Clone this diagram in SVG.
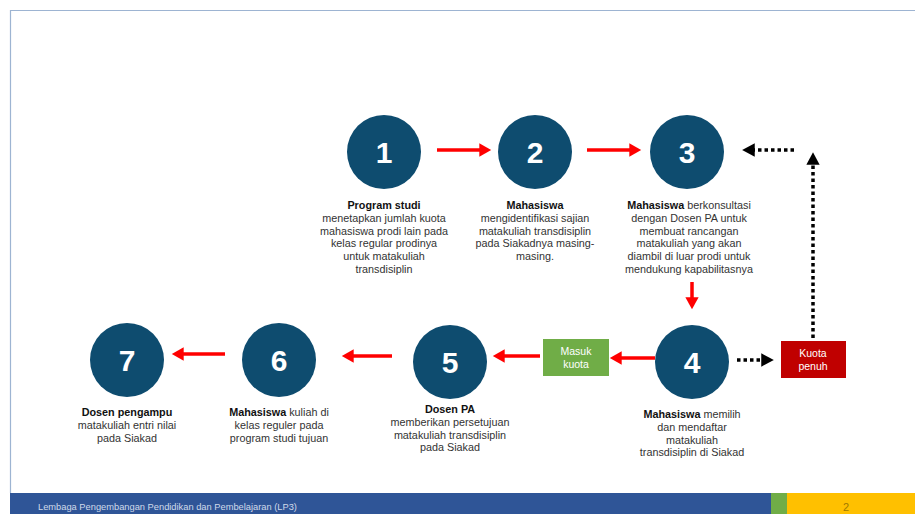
<svg xmlns="http://www.w3.org/2000/svg" width="915" height="514" viewBox="0 0 915 514">
<defs>
<marker id="ar" markerWidth="4" markerHeight="4" refX="2.2" refY="2" orient="auto" markerUnits="strokeWidth"><path d="M0,0.1 L3.4,2 L0,3.9 Z" fill="#FF0000"/></marker>
<marker id="ab" markerWidth="5" markerHeight="5" refX="2.5" refY="2.5" orient="auto" markerUnits="strokeWidth"><path d="M0,0.6 L3.6,2.5 L0,4.4 Z" fill="#000"/></marker>
<style>
.c{fill:#0E4C6F}
.n{font-family:"Liberation Sans",Arial,sans-serif;font-weight:bold;font-size:30px;fill:#fff;text-anchor:middle}
.t{font-family:"Liberation Sans",Arial,sans-serif;font-size:10.8px;fill:#333;text-anchor:middle}
.b{font-weight:bold;fill:#111}
.ra{stroke:#FF0000;stroke-width:3.5;fill:none;marker-end:url(#ar)}
.da{stroke:#000;stroke-width:3.5;stroke-dasharray:3.5 3;fill:none;marker-end:url(#ab)}
.bx{font-family:"Liberation Sans",Arial,sans-serif;font-size:10.5px;fill:#fff;text-anchor:middle}
</style>
</defs>
<rect width="915" height="514" fill="#fff"/>
<path d="M10.5,493 V10.5 H915" fill="none" stroke="#9DB4D2" stroke-width="1.2"/>
<g id="footer">
<rect x="10" y="493" width="761" height="21" fill="#2F5597"/>
<rect x="771" y="493" width="16" height="21" fill="#70AD47"/>
<rect x="787" y="493" width="128" height="21" fill="#FFC000"/>
<text x="38" y="510" font-family="Liberation Sans,Arial,sans-serif" font-size="9.3" fill="#D0DAEA">Lembaga Pengembangan Pendidikan dan Pembelajaran (LP3)</text>
<text x="846" y="511" font-family="Liberation Sans,Arial,sans-serif" font-size="11" fill="#A07A00" text-anchor="middle">2</text>
</g>
<g id="connectors">
<line class="ra" x1="437" y1="150" x2="487" y2="150"/>
<line class="ra" x1="587" y1="150" x2="637" y2="150"/>
<line class="ra" x1="692" y1="282" x2="692" y2="305"/>
<line class="ra" x1="655" y1="358" x2="614" y2="358"/>
<line class="ra" x1="540" y1="356" x2="497" y2="356"/>
<line class="ra" x1="392" y1="356" x2="346" y2="356"/>
<line class="ra" x1="225" y1="354" x2="176" y2="354"/>
<line class="da" x1="737" y1="360" x2="770" y2="360"/>
<line class="da" x1="813" y1="338" x2="813" y2="156"/>
<line class="da" x1="794" y1="150" x2="746" y2="150"/>
</g>
<g id="n1"><circle class="c" cx="384" cy="152" r="37"/><text class="n" x="384" y="163">1</text>
<text class="t" x="384" y="209"><tspan class="b">Program studi</tspan><tspan x="384" dy="12.8">menetapkan jumlah kuota</tspan><tspan x="384" dy="12.8">mahasiswa prodi lain pada</tspan><tspan x="384" dy="12.8">kelas regular prodinya</tspan><tspan x="384" dy="12.8">untuk matakuliah</tspan><tspan x="384" dy="12.8">transdisiplin</tspan></text></g>
<g id="n2"><circle class="c" cx="535" cy="152" r="37"/><text class="n" x="535" y="163">2</text>
<text class="t" x="535" y="209"><tspan class="b">Mahasiswa</tspan><tspan x="535" dy="12.8">mengidentifikasi sajian</tspan><tspan x="535" dy="12.8">matakuliah transdisiplin</tspan><tspan x="535" dy="12.8">pada Siakadnya masing-</tspan><tspan x="535" dy="12.8">masing.</tspan></text></g>
<g id="n3"><circle class="c" cx="687" cy="152" r="37"/><text class="n" x="687" y="163">3</text>
<text class="t" x="689" y="209"><tspan class="b">Mahasiswa</tspan> berkonsultasi<tspan x="689" dy="12.8">dengan Dosen PA untuk</tspan><tspan x="689" dy="12.8">membuat rancangan</tspan><tspan x="689" dy="12.8">matakuliah yang akan</tspan><tspan x="689" dy="12.8">diambil di luar prodi untuk</tspan><tspan x="689" dy="12.8">mendukung kapabilitasnya</tspan></text></g>
<g id="n4"><circle class="c" cx="692" cy="362" r="37"/><text class="n" x="692" y="373">4</text>
<text class="t" x="692" y="418"><tspan class="b">Mahasiswa</tspan> memilih<tspan x="692" dy="12.8">dan mendaftar</tspan><tspan x="692" dy="12.8">matakuliah</tspan><tspan x="692" dy="12.8">transdisiplin di Siakad</tspan></text></g>
<g id="n5"><circle class="c" cx="450" cy="362" r="37"/><text class="n" x="450" y="373">5</text>
<text class="t" x="450" y="413"><tspan class="b">Dosen PA</tspan><tspan x="450" dy="12.8">memberikan persetujuan</tspan><tspan x="450" dy="12.8">matakuliah transdisiplin</tspan><tspan x="450" dy="12.8">pada Siakad</tspan></text></g>
<g id="n6"><circle class="c" cx="279" cy="360" r="37"/><text class="n" x="279" y="371">6</text>
<text class="t" x="279" y="416"><tspan class="b">Mahasiswa</tspan> kuliah di<tspan x="279" dy="12.8">kelas reguler pada</tspan><tspan x="279" dy="12.8">program studi tujuan</tspan></text></g>
<g id="n7"><circle class="c" cx="127" cy="360" r="37"/><text class="n" x="127" y="371">7</text>
<text class="t" x="127" y="416"><tspan class="b">Dosen pengampu</tspan><tspan x="127" dy="12.8">matakuliah entri nilai</tspan><tspan x="127" dy="12.8">pada Siakad</tspan></text></g>
<g id="masuk"><rect x="543" y="339" width="66" height="37" fill="#70AD47"/><text class="bx" x="576" y="355">Masuk<tspan x="576" dy="12.5">kuota</tspan></text></g>
<g id="penuh"><rect x="781" y="341" width="65" height="37" fill="#C00000"/><text class="bx" x="813" y="357">Kuota<tspan x="813" dy="12.5">penuh</tspan></text></g>
</svg>
